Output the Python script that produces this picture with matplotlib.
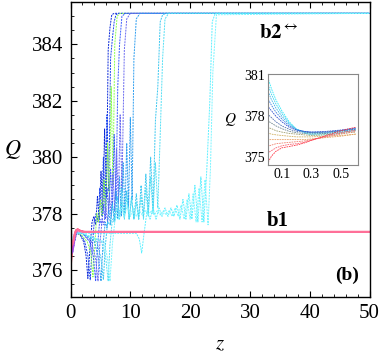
import matplotlib
matplotlib.use('Agg')
import matplotlib.pyplot as plt
from matplotlib.ticker import MultipleLocator

plt.rcParams['font.family'] = ['Liberation Serif', 'DejaVu Serif']
plt.rcParams['mathtext.fontset'] = 'stix'

# ---- b1 family (red / magenta), common z grid ----
b1_z = [0, 0.15, 0.3, 0.5, 0.7, 0.9, 1.2, 1.6, 2.2, 3.0, 50]
b1_q = [
    [375.8, 376.3, 376.7, 377.0, 377.25, 377.4, 377.45, 377.4, 377.36, 377.35, 377.35],
    [376.1, 376.5, 376.8, 377.1, 377.3, 377.42, 377.45, 377.4, 377.36, 377.35, 377.35],
    [376.4, 376.6, 376.7, 376.9, 377.2, 377.38, 377.42, 377.38, 377.35, 377.35, 377.35],
    [376.8, 376.7, 376.6, 376.8, 377.1, 377.3, 377.4, 377.38, 377.35, 377.35, 377.35],
    [377.0, 376.9, 376.9, 377.05, 377.25, 377.38, 377.42, 377.38, 377.35, 377.35, 377.35],
]
b1_colors = ['#ff3050', '#ff5a8a', '#e040c8', '#b050e8', '#ff7098']

# ---- b2 family (blue / cyan) ----
c1_z = [0, 0.1, 0.2, 0.35, 0.6, 1.0, 1.6, 2.2, 2.6, 2.9, 3.2, 3.6, 3.9, 4.2, 4.5, 4.8,
        5.1, 5.4, 5.7, 6.0, 6.3, 6.6, 6.9, 7.3, 50]
c1_q = [380.5, 378.3, 377.1, 376.6, 376.9, 377.3, 377.25, 377.0, 376.5, 375.7, 376.6, 377.7,
        377.9, 377.6, 378.6, 377.8, 379.5, 378.0, 381.0, 378.6, 383.8, 384.6, 385.05, 385.1, 385.1]

c2_z = [0, 0.1, 0.2, 0.35, 0.6, 1.0, 1.6, 2.4, 2.9, 3.3, 3.6, 4.0, 4.3, 4.6, 4.9, 5.2,
        5.5, 5.8, 6.1, 6.4, 6.7, 7.0, 7.3, 7.6, 8.0, 50]
c2_q = [380.0, 378.0, 377.0, 376.7, 377.0, 377.3, 377.3, 377.0, 376.5, 375.65, 376.7, 377.8,
        378.0, 377.7, 378.9, 377.9, 380.0, 378.2, 381.5, 378.8, 383.5, 384.2, 384.8, 385.05,
        385.1, 385.1]

c3_z = [0, 0.1, 0.2, 0.35, 0.6, 1.0, 1.8, 2.8, 3.4, 3.75, 4.1, 4.4, 4.7, 5.0, 5.3, 5.6,
        5.9, 6.2, 6.5, 6.8, 7.1, 7.4, 7.8, 8.3, 50]
c3_q = [379.5, 377.8, 377.0, 376.8, 377.1, 377.3, 377.25, 377.0, 376.6, 375.75, 377.0, 378.0,
        377.7, 378.5, 377.9, 379.2, 378.1, 380.5, 378.4, 382.5, 379.0, 384.0, 385.0, 385.1, 385.1]

c4_z = [0, 0.1, 0.2, 0.35, 0.6, 1.0, 2.0, 3.2, 3.8, 4.2, 4.5, 4.9, 5.2, 5.5, 5.8, 6.1,
        6.4, 6.7, 7.0, 7.3, 7.6, 7.9, 8.2, 8.6, 9.2, 50]
c4_q = [379.0, 377.6, 376.9, 376.8, 377.1, 377.3, 377.3, 377.0, 376.5, 375.6, 376.8, 377.8,
        377.6, 378.3, 377.8, 378.9, 378.0, 379.6, 378.2, 380.8, 378.5, 382.5, 384.0, 385.0,
        385.1, 385.1]

c5_z = [0, 0.1, 0.2, 0.35, 0.6, 1.0, 2.0, 3.5, 4.2, 4.6, 4.9, 5.3, 5.6, 5.9, 6.2, 6.5,
        6.8, 7.1, 7.4, 7.7, 8.0, 8.3, 8.6, 9.0, 9.4, 10.0, 50]
c5_q = [378.6, 377.4, 376.9, 376.9, 377.2, 377.3, 377.3, 377.0, 376.4, 375.6, 376.9, 377.8,
        377.6, 378.2, 377.7, 378.7, 377.9, 379.4, 378.1, 380.3, 378.4, 381.5, 378.8, 383.8,
        384.9, 385.1, 385.1]

c6_z = [0, 0.1, 0.2, 0.35, 0.6, 1.0, 2.0, 4.0, 4.7, 5.1, 5.4, 5.8, 6.1, 6.4, 6.7, 7.0,
        7.3, 7.6, 7.9, 8.2, 8.5, 8.8, 9.1, 9.4, 9.7, 10.0, 10.3, 10.6, 11.0, 11.6, 50]
c6_q = [378.2, 377.3, 376.9, 376.9, 377.2, 377.3, 377.3, 377.0, 376.4, 375.6, 376.8, 377.7,
        377.5, 378.1, 377.6, 378.4, 377.7, 378.8, 377.8, 379.3, 377.9, 379.8, 378.0, 380.5,
        378.2, 381.4, 378.5, 383.5, 384.9, 385.1, 385.1]

c7_z = [0, 0.1, 0.2, 0.35, 0.6, 1.0, 2.0, 4.4, 5.1, 5.5, 5.8, 6.2, 6.6, 7.0, 7.4, 7.8,
        8.2, 8.6, 9.0, 9.4, 9.8, 10.2, 10.6, 11.0, 11.4, 11.8, 12.2, 12.6, 13.0, 13.4,
        13.8, 14.2, 14.6, 15.0, 15.4, 16.0, 50]
c7_q = [378.0, 377.2, 376.9, 377.0, 377.2, 377.3, 377.3, 377.0, 376.4, 375.65, 376.8, 377.7,
        377.6, 378.3, 377.8, 378.6, 377.9, 378.9, 377.9, 378.8, 377.8, 378.6, 377.8, 378.7,
        377.8, 379.0, 377.9, 379.4, 378.0, 380.0, 378.1, 381.3, 382.5, 384.8, 385.05, 385.1,
        385.1]

c8_z = [0, 0.1, 0.2, 0.35, 0.6, 1.0, 2.0, 5.2, 5.9, 6.3, 6.6, 7.0, 7.4, 7.8, 8.2, 8.6,
        9.0, 9.4, 9.8, 10.2, 10.6, 11.0, 11.4, 11.8, 12.2, 12.6, 13.0, 13.4, 13.8, 14.2,
        14.6, 15.0, 15.4, 15.8, 16.4, 50]
c8_q = [377.8, 377.2, 376.9, 377.0, 377.2, 377.3, 377.3, 377.0, 376.4, 375.6, 376.9, 377.8,
        377.7, 378.2, 377.8, 378.4, 377.8, 378.6, 377.8, 378.5, 377.8, 378.4, 377.8, 378.6,
        377.8, 378.9, 377.9, 379.3, 378.0, 379.8, 378.2, 380.8, 383.5, 384.9, 385.1, 385.1]

c9_z = [0, 0.1, 0.2, 0.35, 0.6, 1.0, 2.0, 6.0, 9.0, 11.0, 11.5, 11.9, 12.3, 12.8, 13.3,
        13.8, 14.3, 14.8, 15.3, 15.8, 16.3, 16.8, 17.3, 17.8, 18.3, 18.8, 19.3, 19.8, 20.3,
        20.8, 21.3, 21.8, 22.3, 22.8, 23.3, 23.7, 24.2, 50]
c9_q = [378.5, 377.4, 377.0, 377.1, 377.25, 377.3, 377.3, 377.3, 377.3, 377.3, 377.1, 376.6,
        377.3, 378.1, 377.8, 378.2, 377.8, 378.2, 377.9, 378.2, 377.9, 378.2, 377.9, 378.3,
        377.8, 378.5, 377.8, 378.7, 377.8, 379.0, 377.7, 379.3, 377.7, 379.6, 382.0, 384.8,
        385.1, 385.1]

c10_z = [0, 0.1, 0.2, 0.35, 0.6, 1.0, 2.0, 5.6, 6.2, 6.6,
         7.0, 7.5, 8.0, 8.5, 9.0, 9.5, 10.0, 10.5, 11.0, 11.5, 12.0, 12.5, 13.0, 13.5,
         14.0, 14.5, 15.0, 15.5, 16.0, 16.5, 17.0, 17.5, 18.0, 18.5, 19.0, 19.5, 20.0,
         20.5, 21.0, 21.5, 22.0, 22.5, 23.0, 23.4, 23.8, 24.4, 50]
c10_q = [378.3, 377.3, 376.95, 377.05, 377.25, 377.3, 377.3, 377.0, 376.4, 375.6,
         376.9, 377.9, 377.8, 378.2, 377.9, 378.3, 377.9, 378.2, 377.9, 378.1, 377.95,
         378.1, 377.95, 378.1, 377.95, 378.1, 377.95, 378.1, 377.95, 378.1, 377.9, 378.2,
         377.9, 378.3, 377.8, 378.5, 377.8, 378.7, 377.7, 378.9, 377.7, 379.2, 377.6,
         379.6, 383.0, 385.05, 385.1]

b2_z = [c1_z, c2_z, c3_z, c4_z, c5_z, c6_z, c7_z, c8_z, c9_z, c10_z]
b2_q = [c1_q, c2_q, c3_q, c4_q, c5_q, c6_q, c7_q, c8_q, c9_q, c10_q]
b2_colors = ['#0a28d8', '#1e48f0', '#8cff50', '#3a5cff', '#6a6af0',
             '#2e9ef0', '#3cc8f0', '#55e0f5', '#5ef0ff', '#7af5ff']

# ---- inset (small z) ----
in_z = [0, 0.03, 0.06, 0.1, 0.15, 0.2, 0.25, 0.3, 0.4, 0.5, 0.6]
in_q = [
    [381.0, 380.0, 379.2, 378.4, 377.6, 377.05, 376.8, 376.65, 376.65, 376.8, 377.0],
    [380.5, 379.6, 378.9, 378.2, 377.5, 377.05, 376.85, 376.75, 376.75, 376.9, 377.05],
    [380.0, 379.2, 378.6, 378.0, 377.4, 377.05, 376.9, 376.8, 376.8, 376.95, 377.1],
    [379.4, 378.8, 378.3, 377.8, 377.3, 377.0, 376.9, 376.85, 376.85, 376.95, 377.1],
    [378.8, 378.4, 378.0, 377.6, 377.2, 377.0, 376.9, 376.85, 376.9, 377.0, 377.15],
    [378.2, 377.9, 377.6, 377.3, 377.05, 376.9, 376.85, 376.8, 376.85, 376.95, 377.05],
    [377.7, 377.5, 377.3, 377.1, 376.9, 376.8, 376.75, 376.7, 376.75, 376.85, 376.95],
    [377.2, 377.1, 376.95, 376.85, 376.75, 376.7, 376.65, 376.6, 376.65, 376.75, 376.85],
    [376.8, 376.7, 376.65, 376.6, 376.55, 376.5, 376.5, 376.5, 376.55, 376.6, 376.7],
    [376.3, 376.3, 376.3, 376.3, 376.3, 376.3, 376.3, 376.35, 376.45, 376.55, 376.7],
    [375.8, 375.9, 376.0, 376.05, 376.1, 376.15, 376.2, 376.3, 376.5, 376.7, 376.9],
    [375.3, 375.5, 375.7, 375.85, 375.95, 376.0, 376.1, 376.25, 376.55, 376.8, 377.0],
    [374.5, 375.1, 375.45, 375.7, 375.8, 375.9, 376.05, 376.25, 376.6, 376.95, 377.2],
]
in_colors = ['#30e8f8', '#38d0f0', '#40b0e8', '#3a80e0', '#3050d0', '#5070b0', '#708890',
             '#a0a070', '#d0b060', '#e8a060', '#f08070', '#f86070', '#ff3040']

fig = plt.figure(figsize=(3.82, 3.58), dpi=100)
ax = fig.add_axes([0.1846, 0.1704, 0.7827, 0.8254])

for zz, qq, col in zip(b2_z, b2_q, b2_colors):
    ax.plot(zz, qq, color=col, lw=0.7, ls=(0, (2, 1)))
for qq, col in zip(b1_q, b1_colors):
    ax.plot(b1_z, qq, color=col, lw=1.0)
# the settled b1 line on top
ax.plot(b1_z, b1_q[4], color='#ff7098', lw=1.6)

ax.set_xlim(0, 50)
ax.set_ylim(375.04, 385.52)
ax.xaxis.set_major_locator(MultipleLocator(10))
ax.xaxis.set_minor_locator(MultipleLocator(2))
ax.yaxis.set_major_locator(MultipleLocator(2))
ax.yaxis.set_minor_locator(MultipleLocator(0.5))
ax.tick_params(which='both', direction='in', top=True, right=False, labelsize=15)
ax.tick_params(which='major', length=4, width=0.8, pad=5)
ax.tick_params(which='minor', length=2.5, width=0.6)
for s in ax.spines.values():
    s.set_linewidth(1.0)
ax.set_xlabel('$z$', fontsize=15, labelpad=9)
ax.set_ylabel('$Q$', fontsize=16, rotation=0, labelpad=14, va='center')

ax.text(31.6, 384.19, r'$\mathbf{b2}^{\leftrightarrow}$', fontsize=15)
ax.text(32.75, 377.56, 'b1', fontsize=15, fontweight='bold')
ax.text(48.25, 375.64, '(b)', fontsize=14, fontweight='bold', ha='right')

# inset
axi = fig.add_axes([0.701, 0.539, 0.236, 0.254])
for qq, col in zip(in_q, in_colors):
    axi.plot(in_z, qq, color=col, lw=0.6, ls=(0, (2, 1)))
axi.set_xlim(0.005, 0.615)
axi.set_ylim(374.45, 381.07)
axi.set_xticks([0.1, 0.3, 0.5])
axi.set_yticks([375, 378, 381])
axi.tick_params(direction='in', length=0, labelsize=10, pad=2)
for s in axi.spines.values():
    s.set_color('#888888')
    s.set_linewidth(0.8)
axi.set_ylabel('$Q$', fontsize=11, rotation=0, labelpad=10, va='center')

fig.savefig('out.png', dpi=100)
